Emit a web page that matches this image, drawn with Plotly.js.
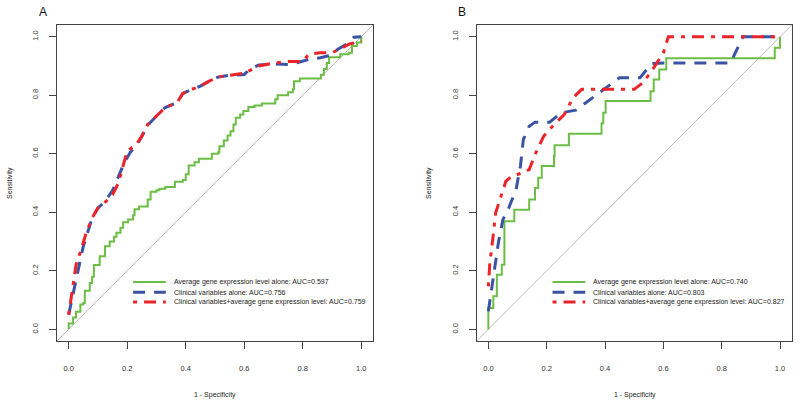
<!DOCTYPE html>
<html>
<head>
<meta charset="utf-8">
<script src="https://cdn.plot.ly/plotly-3.0.1.min.js"></script>
<style>
  html, body { margin: 0; padding: 0; background: #fff; }
  #chart { width: 800px; height: 406px; }
</style>
</head>
<body>
<div id="chart"></div>
<script>
// ROC curves, two cohorts (A, B).

const C = { green: '#6cbd45', blue: '#3a53a4', red: '#ec2328', diag: '#bdbdbd', axis: '#444' };
const FONT = 'Liberation Sans, Arial, sans-serif';

const seriesNames = [
  'Average gene expression level alone',
  'Clinical variables alone',
  'Clinical variables+average gene expression level',
];
const aucA = ['0.597', '0.756', '0.759'];
const aucB = ['0.740', '0.803', '0.827'];
const tickVals = [0, 0.2, 0.4, 0.6, 0.8, 1.0];
const tickText = ['0.0', '0.2', '0.4', '0.6', '0.8', '1.0'];

// panel A: gene expression alone (step points, horizontal then vertical)
const greenAx = [0, 0, 0.015, 0.025, 0.04, 0.05, 0.055, 0.072, 0.08, 0.086, 0.106, 0.124, 0.14, 0.155,
  0.163, 0.177, 0.186, 0.203, 0.22, 0.225, 0.24, 0.27, 0.28, 0.3, 0.31, 0.33, 0.363, 0.39, 0.4, 0.41,
  0.43, 0.445, 0.489, 0.511, 0.515, 0.53, 0.543, 0.553, 0.563, 0.571, 0.586, 0.597, 0.614, 0.635,
  0.66, 0.706, 0.714, 0.75, 0.766, 0.77, 0.79, 0.862, 0.872, 0.882, 0.89, 0.928, 0.957, 0.968, 0.985, 1];
const greenAy = [0, 0.02, 0.04, 0.06, 0.085, 0.09, 0.132, 0.158, 0.18, 0.22, 0.25, 0.284, 0.3, 0.316,
  0.33, 0.347, 0.366, 0.375, 0.39, 0.41, 0.42, 0.444, 0.47, 0.475, 0.48, 0.486, 0.504, 0.51, 0.53, 0.56,
  0.571, 0.583, 0.6, 0.605, 0.626, 0.645, 0.662, 0.677, 0.7, 0.723, 0.734, 0.746, 0.76, 0.765,
  0.772, 0.786, 0.8, 0.81, 0.82, 0.848, 0.857, 0.87, 0.89, 0.91, 0.93, 0.94, 0.945, 0.968, 0.98, 1];

// panel A: clinical variables alone
const blueAx = [0, 0.01, 0.02, 0.035, 0.05, 0.065, 0.08, 0.1, 0.12, 0.15, 0.17, 0.19, 0.21, 0.235, 0.25,
  0.27, 0.3, 0.33, 0.37, 0.39, 0.42, 0.45, 0.48, 0.51, 0.55, 0.6, 0.62, 0.65, 0.7, 0.75, 0.78, 0.82,
  0.86, 0.89, 0.92, 0.95, 0.975, 1];
const blueAy = [0.05, 0.1, 0.147, 0.215, 0.284, 0.33, 0.38, 0.415, 0.432, 0.474, 0.523, 0.57, 0.604,
  0.634, 0.66, 0.697, 0.729, 0.758, 0.775, 0.806, 0.82, 0.831, 0.848, 0.862, 0.868, 0.871, 0.89,
  0.903, 0.907, 0.905, 0.911, 0.922, 0.928, 0.935, 0.957, 0.975, 0.998, 1];

// panel A: clinical + gene expression
const redAx = [0, 0.008, 0.015, 0.025, 0.045, 0.06, 0.08, 0.1, 0.12, 0.15, 0.17, 0.19, 0.2, 0.23, 0.25,
  0.27, 0.3, 0.33, 0.37, 0.39, 0.42, 0.45, 0.48, 0.51, 0.55, 0.6, 0.62, 0.65, 0.7, 0.75, 0.8, 0.82,
  0.86, 0.9, 0.93, 0.96, 1];
const redAy = [0.05, 0.1, 0.15, 0.22, 0.28, 0.33, 0.38, 0.415, 0.43, 0.46, 0.5, 0.57, 0.61,
  0.63, 0.66, 0.7, 0.73, 0.758, 0.775, 0.806, 0.82, 0.831, 0.848, 0.862, 0.868, 0.875, 0.885,
  0.9, 0.91, 0.915, 0.915, 0.94, 0.945, 0.945, 0.96, 0.975, 0.985];

// panel B: gene expression alone (step points, horizontal then vertical)
const greenBx = [0, 0, 0.017, 0.029, 0.046, 0.055, 0.089, 0.14, 0.16, 0.171, 0.183, 0.225, 0.227,
  0.276, 0.388, 0.394, 0.402, 0.556, 0.567, 0.586, 0.61, 0.982, 1];
const greenBy = [0, 0.073, 0.113, 0.186, 0.221, 0.369, 0.409, 0.444, 0.483, 0.518, 0.558, 0.592, 0.629,
  0.668, 0.704, 0.74, 0.78, 0.814, 0.854, 0.888, 0.926, 0.962, 1];

// panel B: clinical variables alone
const blueBx = [0, 0.01, 0.02, 0.035, 0.05, 0.07, 0.095, 0.11, 0.12, 0.14, 0.16, 0.21, 0.25, 0.3, 0.35,
  0.4, 0.45, 0.52, 0.56, 0.6, 0.83, 0.873, 1];
const blueBy = [0.062, 0.124, 0.198, 0.3, 0.375, 0.415, 0.478, 0.558, 0.649, 0.694, 0.708, 0.708, 0.74,
  0.749, 0.786, 0.82, 0.86, 0.86, 0.908, 0.91, 0.91, 1, 1];

// panel B: clinical + gene expression
const redBx = [0, 0.005, 0.015, 0.025, 0.04, 0.06, 0.08, 0.1, 0.14, 0.16, 0.19, 0.22, 0.26, 0.29, 0.32,
  0.4, 0.5, 0.53, 0.56, 0.6, 0.617, 1];
const redBy = [0.147, 0.227, 0.307, 0.398, 0.444, 0.506, 0.523, 0.529, 0.546, 0.597, 0.66, 0.694, 0.734,
  0.791, 0.82, 0.82, 0.82, 0.843, 0.883, 0.945, 1, 1];

const STYLE = [
  { color: C.green, width: 2, dash: 'solid' },
  { color: C.blue, width: 3, dash: '12px,9px' },
  { color: C.red, width: 3, dash: '4px,7px,12px,7px' },
];

function curve(x, y, i, xa, ya, shape) {
  return { x, y, type: 'scatter', mode: 'lines', xaxis: xa, yaxis: ya, name: seriesNames[i],
           line: { ...STYLE[i], shape: shape || 'linear' }, showlegend: false, hoverinfo: 'skip' };
}

const traces = [
  curve(greenAx, greenAy, 0, 'x', 'y', 'hv'),
  curve(blueAx, blueAy, 1, 'x', 'y'),
  curve(redAx, redAy, 2, 'x', 'y'),
  curve(greenBx, greenBy, 0, 'x2', 'y2', 'hv'),
  curve(blueBx, blueBy, 1, 'x2', 'y2'),
  curve(redBx, redBy, 2, 'x2', 'y2'),
];

function axis(domain, letter, anchor) {
  const a = {
    domain, anchor, range: [-0.04, 1.04], showgrid: false, zeroline: false,
    showline: true, mirror: true, linecolor: C.axis, linewidth: 1.2,
    ticks: 'outside', ticklen: 7, tickcolor: C.axis, tickwidth: 1,
    tickvals: tickVals, ticktext: tickText,
    tickfont: { family: FONT, size: 7.5, color: '#333' },
  };
  if (letter === 'y') { a.tickangle = -90; a.ticklabelstandoff = 8; }
  else { a.ticklabelstandoff = 13; }
  return a;
}

// hand-made legend (R style, tight rows) inside each panel
const LEG = { x0: 0.22, x1: 0.332, xt: 0.353, rows: [0.162, 0.127, 0.093] };
const shapes = [];
const annotations = [];
[['x', 'y', aucA], ['x2', 'y2', aucB]].forEach(([xa, ya, auc]) => {
  shapes.push({ type: 'line', xref: xa + ' domain', yref: ya + ' domain', x0: 0, y0: 0, x1: 1, y1: 1,
                line: { color: C.diag, width: 1 }, layer: 'below' });
  seriesNames.forEach((nm, i) => {
    shapes.push({ type: 'line', xref: xa, yref: ya, x0: LEG.x0, x1: LEG.x1, y0: LEG.rows[i], y1: LEG.rows[i],
                  line: { color: STYLE[i].color, width: STYLE[i].width, dash: STYLE[i].dash } });
    annotations.push({ xref: xa, yref: ya, x: LEG.xt, y: LEG.rows[i], xanchor: 'left', yanchor: 'middle',
                       text: `${nm}: AUC=${auc[i]}`, showarrow: false,
                       font: { family: FONT, size: 7, color: '#222' } });
  });
});

const TITLE_FONT = { family: FONT, size: 7, color: '#222' };
function paperText(px, py, text, font, angle) {
  return { xref: 'paper', yref: 'paper', x: px / 800, y: 1 - py / 406, xanchor: 'center', yanchor: 'middle',
           textangle: angle || 0, text, showarrow: false, font };
}
[[10, 'A', 43, 215], [429, 'B', 462, 635]].forEach(([sx, lab, lx, tx]) => {
  annotations.push(paperText(sx, 183, 'Sensitivity', TITLE_FONT, -90));
  annotations.push(paperText(tx, 395, '1 - Specificity', TITLE_FONT));
  annotations.push(paperText(lx, 12, lab, { family: FONT, size: 12, color: '#111' }));
});

const yDom = [1 - 341 / 406, 1 - 25 / 406];
const layout = {
  width: 800, height: 406,
  margin: { l: 0, r: 0, t: 0, b: 0 },
  paper_bgcolor: '#fff', plot_bgcolor: '#fff',
  font: { family: FONT },
  xaxis: axis([57 / 800, 373 / 800], 'x', 'y'),
  yaxis: axis(yDom, 'y', 'x'),
  xaxis2: axis([476.7 / 800, 791.7 / 800], 'x', 'y2'),
  yaxis2: axis(yDom, 'y', 'x2'),
  shapes, annotations, showlegend: false,
};

Plotly.newPlot('chart', traces, layout, { displayModeBar: false, staticPlot: true });
</script>
</body>
</html>
